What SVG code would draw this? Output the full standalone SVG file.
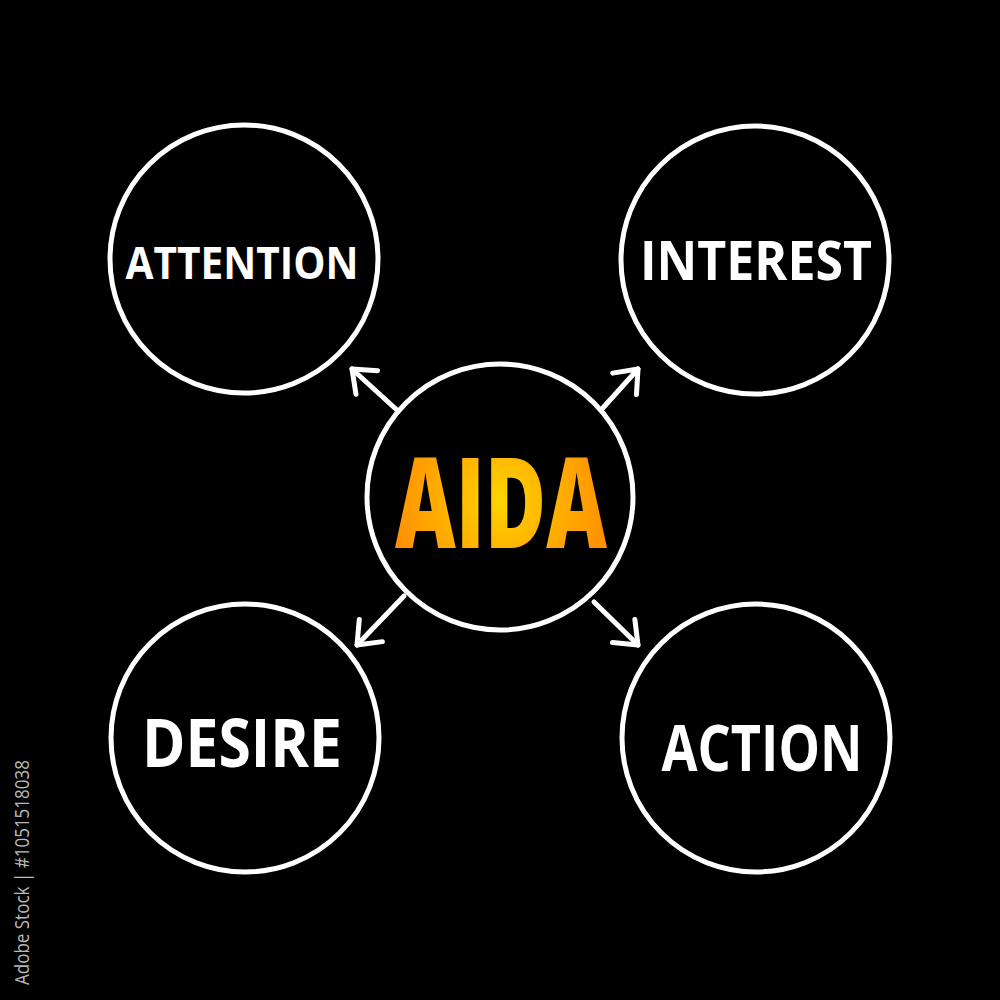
<svg xmlns="http://www.w3.org/2000/svg" width="1000" height="1000" viewBox="0 0 1000 1000">
  <style>
    .ring { fill: #000; stroke: #fff; stroke-width: 5; }
    .label { fill: #fff; font-family: "Open Sans", "Liberation Sans", sans-serif; font-weight: 700; text-anchor: middle; }
    .conn { stroke: #fff; stroke-width: 5; stroke-linecap: round; fill: none; marker-end: url(#head); }
    .side { fill: #b8b8b8; font-family: "Open Sans", "Liberation Sans", sans-serif; font-size: 20px; }
  </style>
  <defs>
    <marker id="head" viewBox="0 0 20 20" refX="16" refY="10" markerWidth="20" markerHeight="20" markerUnits="userSpaceOnUse" orient="auto" overflow="visible">
      <path d="M-4,-6 L16,10 L-4,26" fill="none" stroke="#fff" stroke-width="5" stroke-linecap="round" stroke-linejoin="round"/>
    </marker>
    <radialGradient id="aidaGrad" cx="500" cy="500" r="110" gradientUnits="userSpaceOnUse">
      <stop offset="0" stop-color="#FFD400"/>
      <stop offset="1" stop-color="#FF9000"/>
    </radialGradient>
  </defs>
  <rect width="1000" height="1000" fill="#000"/>

  <g id="connectors">
    <line class="conn" x1="398" y1="411" x2="352" y2="369"/>
    <line class="conn" x1="601" y1="410" x2="638" y2="369"/>
    <line class="conn" x1="404" y1="596" x2="357" y2="645"/>
    <line class="conn" x1="594" y1="602" x2="638" y2="645"/>
  </g>

  <g id="node-aida">
    <circle class="ring" cx="500" cy="497" r="133"/>
    <text x="501" y="548" font-family="Open Sans, Liberation Sans, sans-serif" font-weight="800" font-size="126" text-anchor="middle" textLength="212" lengthAdjust="spacingAndGlyphs" fill="url(#aidaGrad)">AIDA</text>
  </g>

  <g id="node-attention">
    <circle class="ring" cx="244" cy="259" r="134"/>
    <text class="label" x="242" y="279" font-size="44" textLength="233" lengthAdjust="spacingAndGlyphs">ATTENTION</text>
  </g>

  <g id="node-interest">
    <circle class="ring" cx="755" cy="260" r="134"/>
    <text class="label" x="756" y="280" font-size="54" textLength="232" lengthAdjust="spacingAndGlyphs">INTEREST</text>
  </g>

  <g id="node-desire">
    <circle class="ring" cx="245" cy="738" r="134"/>
    <text class="label" x="242" y="767" font-size="66" textLength="200" lengthAdjust="spacingAndGlyphs">DESIRE</text>
  </g>

  <g id="node-action">
    <circle class="ring" cx="756" cy="738" r="134"/>
    <text class="label" x="762" y="771" font-size="64" textLength="201" lengthAdjust="spacingAndGlyphs">ACTION</text>
  </g>

  <text class="side" transform="translate(29,985) rotate(-90)" textLength="225" lengthAdjust="spacingAndGlyphs">Adobe Stock | #1051518038</text>
</svg>
